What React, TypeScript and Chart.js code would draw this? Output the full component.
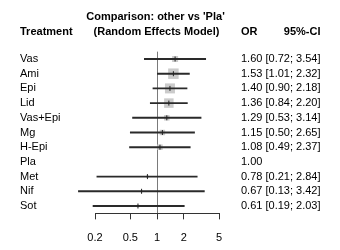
import React, { useEffect, useRef } from "react";
import { Chart, registerables } from "chart.js";

Chart.register(...registerables);

const treatments = ["Vas", "Ami", "Epi", "Lid", "Vas+Epi", "Mg", "H-Epi", "Pla", "Met", "Nif", "Sot"];
const oddsRatios = [1.6, 1.53, 1.4, 1.36, 1.29, 1.15, 1.08, 1.0, 0.78, 0.67, 0.61];
const ciLower: (number | null)[] = [0.72, 1.01, 0.9, 0.84, 0.53, 0.5, 0.49, null, 0.21, 0.13, 0.19];
const ciUpper: (number | null)[] = [3.54, 2.32, 2.18, 2.2, 3.14, 2.65, 2.37, null, 2.84, 3.42, 2.03];
// relative study weight (box area)
const weights = [36, 110, 100, 90, 30, 30, 30, 0, 6, 4, 6];
const xTicks = [0.2, 0.5, 1, 2, 5];

const titleLines = ["Comparison: other vs 'Pla'", "(Random Effects Model)"];
const colHeaders = { label: "Treatment", or: "OR", ci: "95%-CI" };

const ciLabels = treatments.map((_, i) => {
  const lo = ciLower[i];
  const hi = ciUpper[i];
  const or = oddsRatios[i].toFixed(2);
  return lo == null || hi == null ? or : `${or} [${lo.toFixed(2)}; ${hi.toFixed(2)}]`;
});

const withCI = treatments.map((_, i) => i).filter((i) => ciLower[i] != null);

const FONT = '"Liberation Sans", Arial, Helvetica, sans-serif';

const headerPlugin = {
  id: "forestHeader",
  afterDraw(chart: any) {
    const ctx = chart.ctx;
    ctx.save();
    ctx.fillStyle = "#000";
    ctx.font = `bold 11px ${FONT}`;
    ctx.textBaseline = "alphabetic";
    ctx.textAlign = "center";
    ctx.fillText(titleLines[0], 155.5, 20);
    ctx.fillText(titleLines[1], 156.5, 35);
    ctx.textAlign = "left";
    ctx.fillText(colHeaders.label, 20, 35);
    ctx.fillText(colHeaders.or, 241, 35);
    ctx.textAlign = "right";
    ctx.fillText(colHeaders.ci, 320.5, 35);
    ctx.restore();
  },
};

export default function App() {
  const ref = useRef<HTMLCanvasElement>(null);

  useEffect(() => {
    document.body.style.margin = "0";
    document.body.style.overflow = "hidden";
    const canvas = ref.current;
    if (!canvas) return;

    const chart = new Chart(canvas, {
      type: "bar",
      data: {
        labels: treatments,
        datasets: [
          {
            type: "scatter",
            label: "estimate",
            data: withCI.map((i) => ({ x: oddsRatios[i], y: treatments[i] })),
            pointStyle: "line",
            rotation: 90,
            pointRadius: 2.5,
            borderColor: "#222",
            borderWidth: 1,
            xAxisID: "x",
            yAxisID: "y",
            order: 0,
            clip: false,
          } as any,
          {
            type: "bar",
            label: "CI",
            data: treatments.map((_, i) =>
              ciLower[i] == null ? null : [ciLower[i] as number, ciUpper[i] as number]
            ) as any,
            backgroundColor: "#2a2a2a",
            borderWidth: 0,
            barThickness: 1.2,
            xAxisID: "x",
            yAxisID: "y",
            order: 1,
            clip: false,
          } as any,
          {
            type: "scatter",
            label: "box",
            data: withCI.map((i) => ({ x: oddsRatios[i], y: treatments[i] })),
            pointStyle: "rect",
            pointRadius: withCI.map((i) => Math.sqrt(weights[i]) / Math.SQRT2),
            backgroundColor: "#cbcbcb",
            borderWidth: 0,
            xAxisID: "x",
            yAxisID: "y",
            order: 2,
            clip: false,
          } as any,
        ],
      },
      options: {
        indexAxis: "y",
        animation: false,
        responsive: false,
        events: [],
        layout: { padding: { left: 20, right: 0, top: 51.65, bottom: 0 } },
        plugins: {
          legend: { display: false },
          tooltip: { enabled: false },
          title: { display: false },
        },
        scales: {
          x: {
            type: "logarithmic",
            position: "bottom",
            min: 0.2,
            max: 5,
            afterBuildTicks: (s: any) => {
              s.ticks = xTicks.map((v) => ({ value: v }));
            },
            afterFit: (s: any) => {
              s.height = 36.65;
            },
            ticks: {
              autoSkip: false,
              maxRotation: 0,
              padding: 12,
              color: "#000",
              font: { family: FONT, size: 11 },
              callback: (v: any) => String(v),
            },
            grid: {
              drawOnChartArea: true,
              drawTicks: true,
              tickLength: 6,
              lineWidth: 1,
              color: (c: any) => (c.tick && c.tick.value === 1 ? "#7a7a7a" : "rgba(0,0,0,0)"),
              tickColor: "#333",
            },
            border: { display: true, color: "#333", width: 1 },
          } as any,
          y: {
            type: "category",
            position: "left",
            offset: true,
            afterFit: (s: any) => {
              s.width = 75;
            },
            grid: { display: false, drawTicks: false },
            border: { display: false },
            ticks: {
              crossAlign: "far",
              padding: 0,
              autoSkip: false,
              color: "#000",
              font: { family: FONT, size: 11 },
            },
          } as any,
          y2: {
            type: "category",
            position: "right",
            labels: ciLabels,
            offset: true,
            display: true,
            afterFit: (s: any) => {
              s.width = 121;
            },
            grid: { display: false, drawTicks: false },
            border: { display: false },
            ticks: {
              crossAlign: "near",
              padding: 22,
              autoSkip: false,
              color: "#000",
              font: { family: FONT, size: 11 },
            },
          } as any,
        },
      } as any,
      plugins: [headerPlugin],
    });

    return () => chart.destroy();
  }, []);

  return (
    <div style={{ width: 340, height: 250, background: "#fff" }}>
      <canvas ref={ref} width={340} height={250} style={{ display: "block" }} />
    </div>
  );
}
